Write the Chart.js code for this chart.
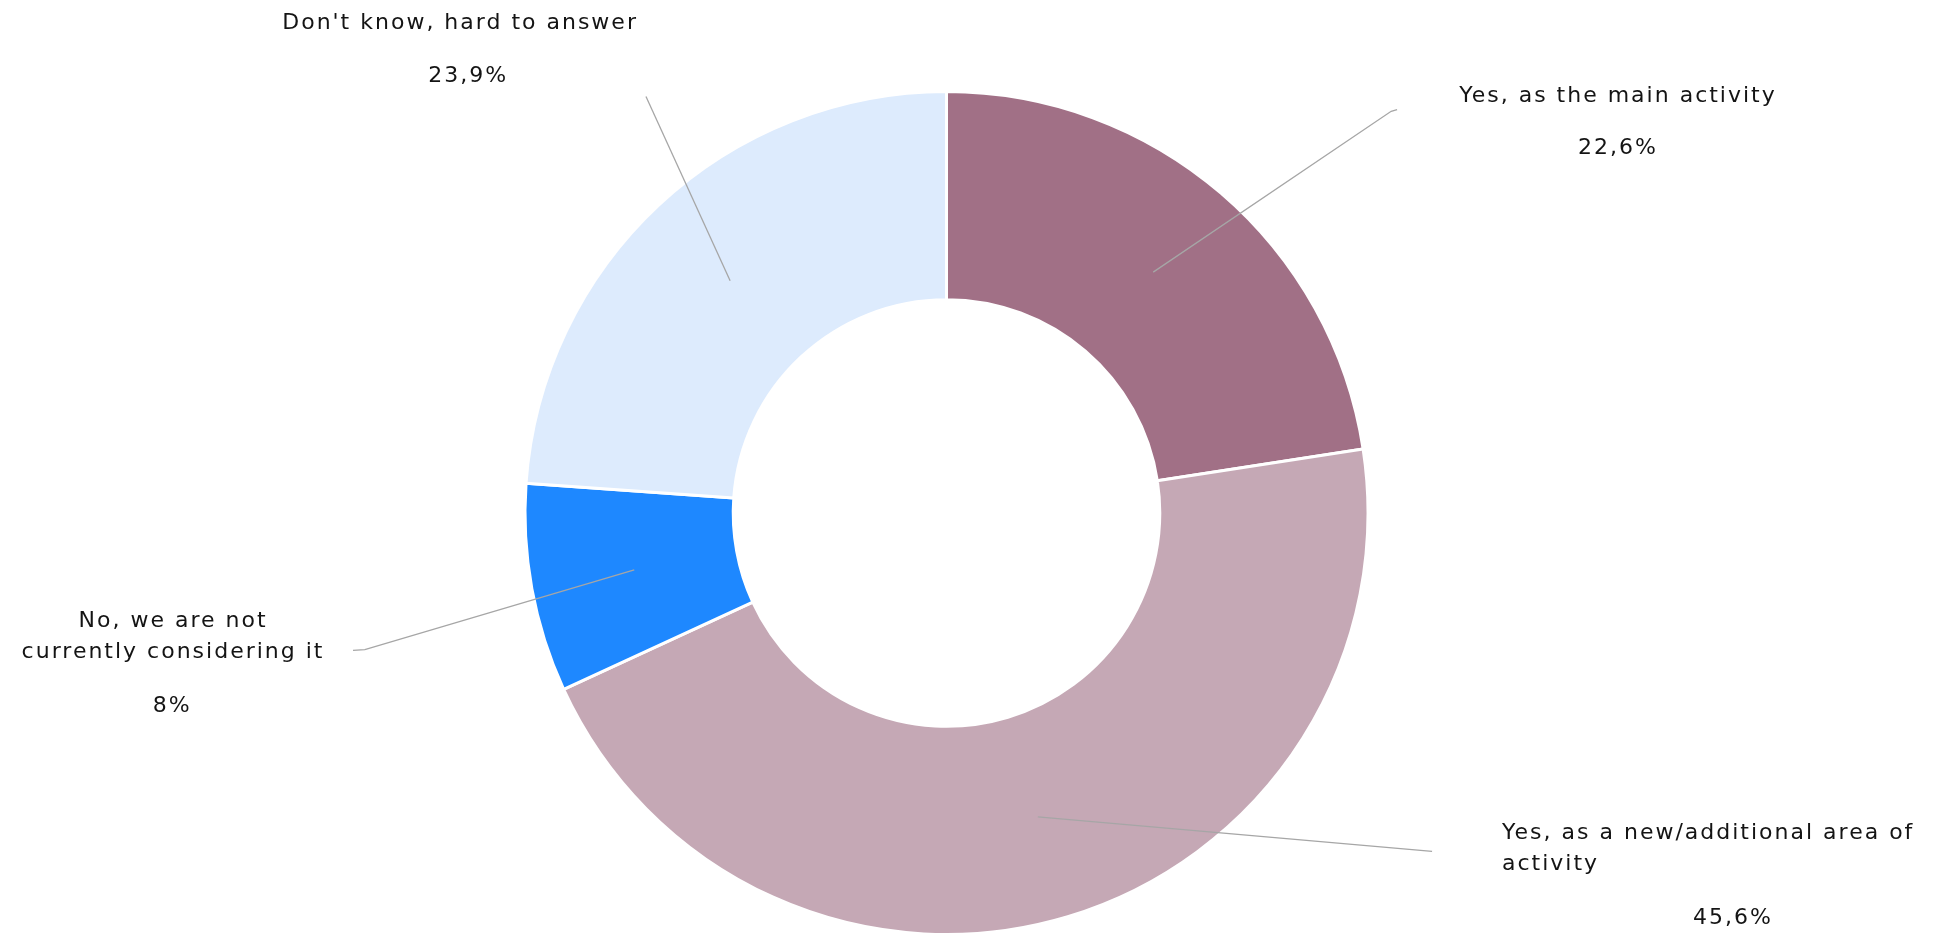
<!DOCTYPE html>
<html>
<head>
<meta charset="utf-8">
<title>Doughnut</title>
<script src="https://cdn.jsdelivr.net/npm/chart.js@4.4.1/dist/chart.umd.min.js"></script>
<style>
    html, body { margin: 0; padding: 0; background: #ffffff; }
    #wrap { width: 1941px; height: 938px; position: relative; }
</style>
</head>
<body>
<div id="wrap"><canvas id="shareChart"></canvas></div>
<script>
// data (clockwise from 12 o'clock)
const categories = [
    ['Yes, as the main activity'],
    ['Yes, as a new/additional area of', 'activity'],
    ['No, we are not', 'currently considering it'],
    ["Don't know, hard to answer"]
];
const shares = [22.6, 45.6, 8, 23.9];
const sliceColors = ['#A17086', '#C5A8B5', '#1E88FF', '#DDEBFD'];

// label placement, in units of the outer radius, measured from the centre
// title: anchor of the first text line, value: centre of the percent text,
// bend/end: where the leader line turns and stops
const labelLayout = [
    { align: 'center', title: [1.593, -0.988], value: [1.593, -0.865], bend: [1.055, -0.953], end: [1.069, -0.957] },
    { align: 'left',   title: [1.318,  0.761], value: [1.866,  0.962], bend: [1.152,  0.803], end: [1.152,  0.803] },
    { align: 'center', title: [-1.835, 0.258], value: [-1.837, 0.459], bend: [-1.380, 0.324], end: [-1.408, 0.326] },
    { align: 'center', title: [-1.154, -1.161], value: [-1.135, -1.035], bend: [-0.713, -0.988], end: [-0.713, -0.988] }
];

const FONT = '22px "DejaVu Sans", sans-serif';
const LINE_H = 31;

const leaderLabels = {
    id: 'leaderLabels',
    afterDatasetsDraw(chart) {
        const c = chart.ctx;
        const meta = chart.getDatasetMeta(0);
        meta.data.forEach((arc, i) => {
            const lay = labelLayout[i];
            if (!lay) return;
            const R = arc.outerRadius;
            const cx = arc.x, cy = arc.y;
            const start = arc.tooltipPosition();
            const px = p => cx + p[0] * R;
            const py = p => cy + p[1] * R;

            c.save();
            c.strokeStyle = '#A6A6A6';
            c.lineWidth = 1.3;
            c.beginPath();
            c.moveTo(start.x, start.y);
            c.lineTo(px(lay.bend), py(lay.bend));
            c.lineTo(px(lay.end), py(lay.end));
            c.stroke();

            c.fillStyle = '#141414';
            c.font = FONT;
            c.letterSpacing = '2px';
            c.textBaseline = 'middle';
            c.textAlign = lay.align;
            categories[i].forEach((line, k) => {
                c.fillText(line, px(lay.title), py(lay.title) + k * LINE_H);
            });
            c.textAlign = 'center';
            const txt = String(shares[i]).replace('.', ',') + '%';
            c.fillText(txt, px(lay.value), py(lay.value));
            c.restore();
        });
    }
};

const ctx = document.getElementById('shareChart');
new Chart(ctx, {
    type: 'doughnut',
    data: {
        labels: categories,
        datasets: [{
            data: shares,
            backgroundColor: sliceColors,
            borderColor: '#ffffff',
            borderWidth: 3,
            hoverBorderWidth: 3
        }]
    },
    options: {
        responsive: true,
        maintainAspectRatio: false,
        animation: false,
        cutout: '50.6%',
        layout: {
            padding: { top: 90, bottom: 2, left: 0, right: 48 }
        },
        plugins: {
            legend: { display: false },
            tooltip: { enabled: false }
        }
    },
    plugins: [leaderLabels]
});
</script>
</body>
</html>
